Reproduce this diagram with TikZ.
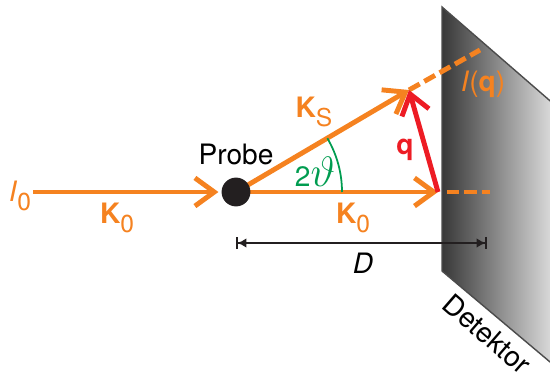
\documentclass[tikz,border=0pt]{standalone}
\usepackage{fontspec}
\setmainfont{TeX Gyre Heros}
\usetikzlibrary{arrows.meta, positioning}
\definecolor{beamorange}{RGB}{245,130,32}
\definecolor{qred}{RGB}{237,28,36}
\definecolor{anglegreen}{RGB}{0,156,80}
\definecolor{inkblack}{RGB}{35,31,32}
\newcommand{\lowidx}[1]{\raisebox{-5pt}{\fontsize{14}{14}\selectfont #1}}

\begin{document}
\begin{tikzpicture}[
    x=0.02cm, y=0.02cm,
    txt/.style={font=\fontsize{16}{19}\selectfont, inner sep=1pt},
    beam/.style={draw=beamorange, line width=2.8pt},
    chevron/.style={-{Straight Barb[length=11pt, width=16pt]}},
    beamdash/.style={beam, dash pattern=on 7pt off 3pt},
    dim/.style={draw=inkblack, line width=0.9pt, {Bar[width=7pt]Latex[length=5pt, width=5.5pt]}-{Latex[length=5pt, width=5.5pt]Bar[width=7pt]}}
]
    \useasboundingbox (0,0) rectangle (550,376);

    % detector plate
    \begin{scope}
        \clip (0,0) rectangle (550,376);
        \shade[left color=black!78, right color=black!12, draw=black!70, line width=0.8pt]
            (442,369) -- (556,270) -- (556,9) -- (442,105) -- cycle;
    \end{scope}
    \node[txt, rotate=-41] (det) at (487,42) {Detektor};

    \coordinate (probe) at (236,184);
    \coordinate (trans) at (438,184);
    \coordinate (scat) at (409,286);
    \coordinate (transend) at (490,184);
    \coordinate (scatend) at (480,326);
    \node[txt, text=beamorange] (i0) at (20,180) {\textit{I}\lowidx{0}};

    % beams
    \draw[beam, chevron, shorten >=10pt] (i0.east |- probe) -- (probe);
    \draw[beam, chevron] (probe) -- (trans);
    \draw[beam, chevron] (probe) -- (scat);
    \draw[beamdash, shorten <=5pt] (trans) -- (transend);
    \draw[beamdash] (scat) -- (scatend);
    \draw[draw=qred, line width=2.8pt, chevron] (trans) -- (scat);
    \draw[anglegreen, line width=1pt] ([shift={(0:106)}]probe) arc[start angle=0, end angle=30.5, radius=106];

    \node[circle, fill=inkblack, minimum size=16.4pt, inner sep=0pt] (dot) at (probe) {};
    \node[txt, above=6pt of dot] (probelbl) {Probe};

    % labels
    \node[txt, text=beamorange] (k0in) at (117,158) {\textbf{K}\lowidx{0}};
    \node[txt, text=beamorange] (k0out) at (353,158) {\textbf{K}\lowidx{0}};
    \node[txt, text=beamorange] (ks) at (314,264) {\textbf{K}\lowidx{S}};
    \node[txt, text=anglegreen] (angle) at (315,204) {2\scalebox{1.4}{$\vartheta$}};
    \node[txt, text=qred] (q) at (405,226) {\textbf{q}};
    \node[txt, text=beamorange] (iq) at (483,292) {\textit{I}(\textbf{q})};

    % distance
    \coordinate (dl) at (236,133);
    \coordinate (dr) at (487,133);
    \draw[dim] (dl) -- (dr);
    \node[txt] (dlbl) at (363,113) {\textit{D}};
\end{tikzpicture}
\end{document}
